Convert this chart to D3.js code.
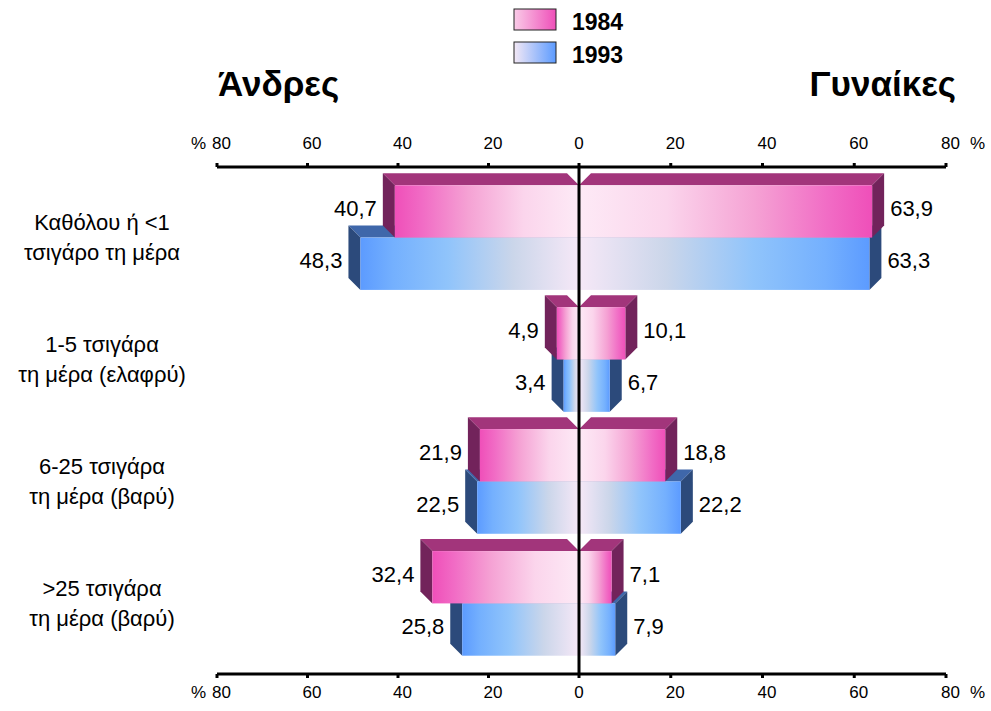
<!DOCTYPE html>
<html lang="el">
<head>
    <meta charset="UTF-8">
    <script src="https://d3js.org/d3.v7.min.js"></script>
    <title>Κάπνισμα 1984 - 1993</title>
    <style>
        body { margin: 0; background: #fff; }
        text { font-family: "Liberation Sans", Arial, sans-serif; fill: #000; }
    </style>
</head>
<body>
<div id="chart"></div>
<script>
    // categories (two lines each)
    const categories = [
        "Καθόλου ή <1\nτσιγάρο τη μέρα",
        "1-5 τσιγάρα\nτη μέρα (ελαφρύ)",
        "6-25 τσιγάρα\nτη μέρα (βαρύ)",
        ">25 τσιγάρα\nτη μέρα (βαρύ)"
    ]
    const years = ["1984", "1993"]
    const men1984 = [40.7, 4.9, 21.9, 32.4]
    const men1993 = [48.3, 3.4, 22.5, 25.8]
    const women1984 = [63.9, 10.1, 18.8, 7.1]
    const women1993 = [63.3, 6.7, 22.2, 7.9]
    const tickValues = [0, 20, 40, 60, 80]

    const width = 991, height = 711
    const axisTop = 167, axisBottom = 674
    const x0 = 579
    const depth = 12

    const svg = d3.select("#chart").append("svg")
        .attr("width", width)
        .attr("height", height)

    // gradients
    const defs = svg.append("defs")
    function grad(id, stops, reverse) {
        let g = defs.append("linearGradient").attr("id", id)
            .attr("x1", reverse ? 1 : 0).attr("x2", reverse ? 0 : 1)
            .attr("y1", 0).attr("y2", 0)
        stops.forEach(s => g.append("stop").attr("offset", s[0]).attr("stop-color", s[1]))
    }
    const pinkStops = [[0, "#fdeaf6"], [0.3, "#fbd5ec"], [0.6, "#f5a2d4"], [0.85, "#f16cc5"], [1, "#ef4fb9"]]
    const blueStops = [[0, "#f6e8f7"], [0.3, "#cbd6ea"], [0.6, "#90c4fb"], [0.85, "#74b0fe"], [1, "#5c9bff"]]
    grad("pinkR", pinkStops, false)
    grad("pinkL", pinkStops, true)
    grad("blueR", blueStops, false)
    grad("blueL", blueStops, true)
    grad("pinkLeg", [[0, "#f9cbe7"], [1, "#ef4fb9"]], false)
    grad("blueLeg", [[0, "#f3e8f5"], [1, "#5c9bff"]], false)

    const colors = [
        {front: "pink", top: "#a2357b", side: "#72235b"},
        {front: "blue", top: "#3f67aa", side: "#2c4a7b"}
    ]

    // scales
    const xL = d3.scaleLinear().domain([0, 80]).range([x0, 217])
    const xR = d3.scaleLinear().domain([0, 80]).range([x0, 946])
    const y = d3.scaleBand().domain(categories).range([axisTop, axisBottom])
        .paddingInner(0.142).paddingOuter(0.15)
    const bh = y.bandwidth() / 2

    const fmt = d3.formatLocale({decimal: ",", thousands: ".", grouping: [3], currency: ["", "€"]}).format(".1f")

    // bars
    const barData = []
    categories.forEach((c, i) => {
        // 1993 first so the 1984 bar sits over its top face
        barData.push({cat: c, s: 1, side: "L", v: men1993[i]})
        barData.push({cat: c, s: 1, side: "R", v: women1993[i]})
        barData.push({cat: c, s: 0, side: "L", v: men1984[i]})
        barData.push({cat: c, s: 0, side: "R", v: women1984[i]})
    })

    const bars = svg.append("g").selectAll("g").data(barData).join("g")
    bars.each(function (d) {
        let g = d3.select(this)
        let yT = y(d.cat) + d.s * bh
        let yB = yT + bh
        let left = d.side === "L"
        let sc = left ? xL : xR
        let xv = sc(d.v)
        let dd = left ? -depth : depth
        let col = colors[d.s]
        g.append("polygon")
            .attr("points", [[x0, yT], [xv, yT], [xv + dd, yT - depth], [x0 + dd, yT - depth]].join(" "))
            .attr("fill", col.top)
        g.append("polygon")
            .attr("points", [[xv, yT], [xv, yB], [xv + dd, yB - depth], [xv + dd, yT - depth]].join(" "))
            .attr("fill", col.side)
        g.append("rect")
            .attr("x", Math.min(x0, xv))
            .attr("y", yT)
            .attr("width", Math.abs(xv - x0))
            .attr("height", bh)
            .attr("fill", "url(#" + col.front + d.side + ")")
        g.append("text")
            .attr("x", left ? xv - depth - 6 : xv + depth + 6)
            .attr("y", (yT + yB) / 2 - 3)
            .attr("dy", "0.35em")
            .attr("text-anchor", left ? "end" : "start")
            .attr("font-size", 22)
            .text(fmt(d.v))
    })

    // axes
    function drawAxis(yPos, top) {
        let g = svg.append("g")
        g.append("line")
            .attr("x1", xL(80)).attr("x2", xR(80))
            .attr("y1", yPos).attr("y2", yPos)
            .attr("stroke", "#000").attr("stroke-width", 3)
        let ticks = []
        tickValues.forEach(t => {
            ticks.push({v: t, x: xL(t)})
            if (t > 0) ticks.push({v: t, x: xR(t)})
        })
        g.selectAll("line.tick").data(ticks).join("line")
            .attr("class", "tick")
            .attr("x1", d => d.x).attr("x2", d => d.x)
            .attr("y1", yPos).attr("y2", top ? yPos - 4 : yPos + 4)
            .attr("stroke", "#000").attr("stroke-width", 3)
        g.selectAll("text").data(ticks).join("text")
            .attr("x", d => d.v === 0 ? d.x : d.x + 4.5)
            .attr("y", top ? yPos - 24 : yPos + 18)
            .attr("dy", "0.35em")
            .attr("text-anchor", "middle")
            .attr("font-size", 17)
            .text(d => d.v)
        g.append("text")
            .attr("x", xL(80) - 11).attr("y", top ? yPos - 24 : yPos + 18)
            .attr("dy", "0.35em").attr("text-anchor", "end")
            .attr("font-size", 17).text("%")
        g.append("text")
            .attr("x", xR(80) + 24).attr("y", top ? yPos - 24 : yPos + 18)
            .attr("dy", "0.35em").attr("text-anchor", "start")
            .attr("font-size", 17).text("%")
    }
    drawAxis(axisTop, true)
    drawAxis(axisBottom, false)

    // zero line
    svg.append("line")
        .attr("x1", x0).attr("x2", x0)
        .attr("y1", axisTop).attr("y2", axisBottom)
        .attr("stroke", "#000").attr("stroke-width", 3)

    // category labels
    svg.append("g").selectAll("text").data(categories).join("text")
        .attr("text-anchor", "middle")
        .attr("font-size", 22)
        .each(function (d) {
            let lines = d.split("\n")
            let cy = y(d) + y.bandwidth() / 2
            d3.select(this).selectAll("tspan").data(lines).join("tspan")
                .attr("x", 102)
                .attr("y", (l, i) => cy + (i - 0.5) * 30)
                .attr("dy", "0.35em")
                .text(l => l)
        })

    // titles
    svg.append("text").attr("x", 218).attr("y", 96)
        .attr("font-size", 35).attr("font-weight", "bold").text("Άνδρες")
    svg.append("text").attr("x", 956).attr("y", 96).attr("text-anchor", "end")
        .attr("font-size", 35).attr("font-weight", "bold").text("Γυναίκες")

    // legend
    const legend = svg.append("g").selectAll("g").data(years).join("g")
        .attr("transform", (d, i) => "translate(514," + (9 + i * 33) + ")")
    legend.append("rect")
        .attr("width", 42).attr("height", 21)
        .attr("fill", (d, i) => i === 0 ? "url(#pinkLeg)" : "url(#blueLeg)")
        .attr("stroke", "#222").attr("stroke-width", 1)
    legend.append("text")
        .attr("x", 58).attr("y", 13).attr("dy", "0.35em")
        .attr("font-size", 23).attr("font-weight", "bold")
        .text(d => d)
</script>
</body>
</html>
